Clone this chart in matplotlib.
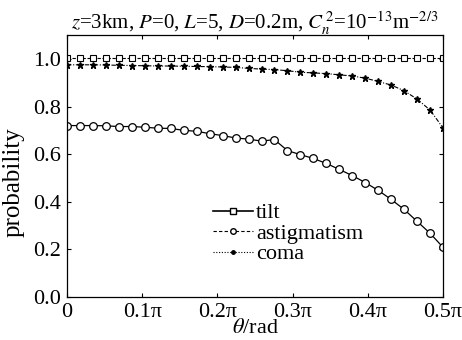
import numpy as np
import matplotlib
matplotlib.use("Agg")
import matplotlib.pyplot as plt
from matplotlib.lines import Line2D

# ================================
# DATA
# ================================
theta = np.linspace(0, 0.5 * np.pi, 30)

tilt = [1.003] * 30

astigmatism = [0.720, 0.720, 0.720, 0.719, 0.716, 0.716, 0.713, 0.709, 0.708, 0.700,
               0.696, 0.686, 0.678, 0.668, 0.663, 0.655, 0.661, 0.615, 0.598, 0.582,
               0.561, 0.536, 0.510, 0.481, 0.448, 0.410, 0.368, 0.318, 0.268, 0.209]

coma = [0.975, 0.975, 0.975, 0.974, 0.973, 0.972, 0.971, 0.970, 0.970, 0.969,
        0.968, 0.967, 0.966, 0.964, 0.960, 0.957, 0.955, 0.950, 0.944, 0.941,
        0.938, 0.933, 0.928, 0.919, 0.905, 0.890, 0.866, 0.831, 0.785, 0.710]

xticks = [0, 0.1 * np.pi, 0.2 * np.pi, 0.3 * np.pi, 0.4 * np.pi, 0.5 * np.pi]
xticklabels = ["0", "0.1π", "0.2π", "0.3π", "0.4π", "0.5π"]
yticks = [0.0, 0.2, 0.4, 0.6, 0.8, 1.0]

# ================================
# STYLE
# ================================
plt.rcParams["font.family"] = ["Liberation Serif", "DejaVu Serif"]
plt.rcParams["mathtext.fontset"] = "stix"

fig = plt.figure(figsize=(4.62, 3.40), dpi=100)
ax = fig.add_axes([0.145, 0.126, 0.814, 0.771])

# ================================
# PLOT
# ================================
ax.plot(theta, tilt, color="black", lw=0.8, ls=(0, (3, 1.5)),
        marker="s", ms=4.5, mfc="white", mec="black", mew=0.8)
ax.plot(theta, astigmatism, color="black", lw=0.9, ls="-",
        marker="o", ms=5.5, mfc="white", mec="black", mew=0.9)
ax.plot(theta, coma, color="black", lw=0.8, ls=(0, (4, 1.5, 1, 1.5)),
        marker="*", ms=5, mfc="black", mec="black")

ax.set_xlim(0, 0.5 * np.pi)
ax.set_ylim(0, 1.1)
ax.set_xticks(xticks)
ax.set_xticklabels(xticklabels)
ax.set_yticks(yticks)
ax.set_yticklabels([f"{v:.1f}" for v in yticks])
ax.tick_params(direction="in", top=True, right=True, length=3, width=0.8,
               labelsize=16)
ax.tick_params(axis="x", pad=4)
ax.tick_params(axis="y", pad=4)
for s in ax.spines.values():
    s.set_linewidth(0.9)

ax.set_xlabel(r"$\theta$/rad", fontsize=16, labelpad=-2)
ax.set_ylabel("probability", fontsize=18)
ax.yaxis.set_label_coords(-0.112, 0.44)
ax.set_title(r"$z$=3km, $P$=0, $L$=5, $D$=0.2m, $C_n^{\,2}$=10$^{-13}$m$^{-2/3}$",
             fontsize=15, pad=4)

handles = [
    Line2D([], [], color="black", lw=1.2, ls="-", marker="s", ms=4,
           mfc="white", mec="black"),
    Line2D([], [], color="black", lw=0.8, ls=(0, (3, 2)), marker="o", ms=4,
           mfc="white", mec="black"),
    Line2D([], [], color="black", lw=0.8, ls=(0, (1, 1.5)), marker="o", ms=2.5,
           mfc="black", mec="black"),
]
ax.legend(handles, ["tilt", "astigmatism", "coma"], loc="upper left",
          bbox_to_anchor=(0.388, 0.36), frameon=False, fontsize=16,
          handlelength=1.8, handletextpad=0.15, labelspacing=0.0,
          borderpad=0.0, borderaxespad=0.0)

fig.savefig("out.png", dpi=100)
